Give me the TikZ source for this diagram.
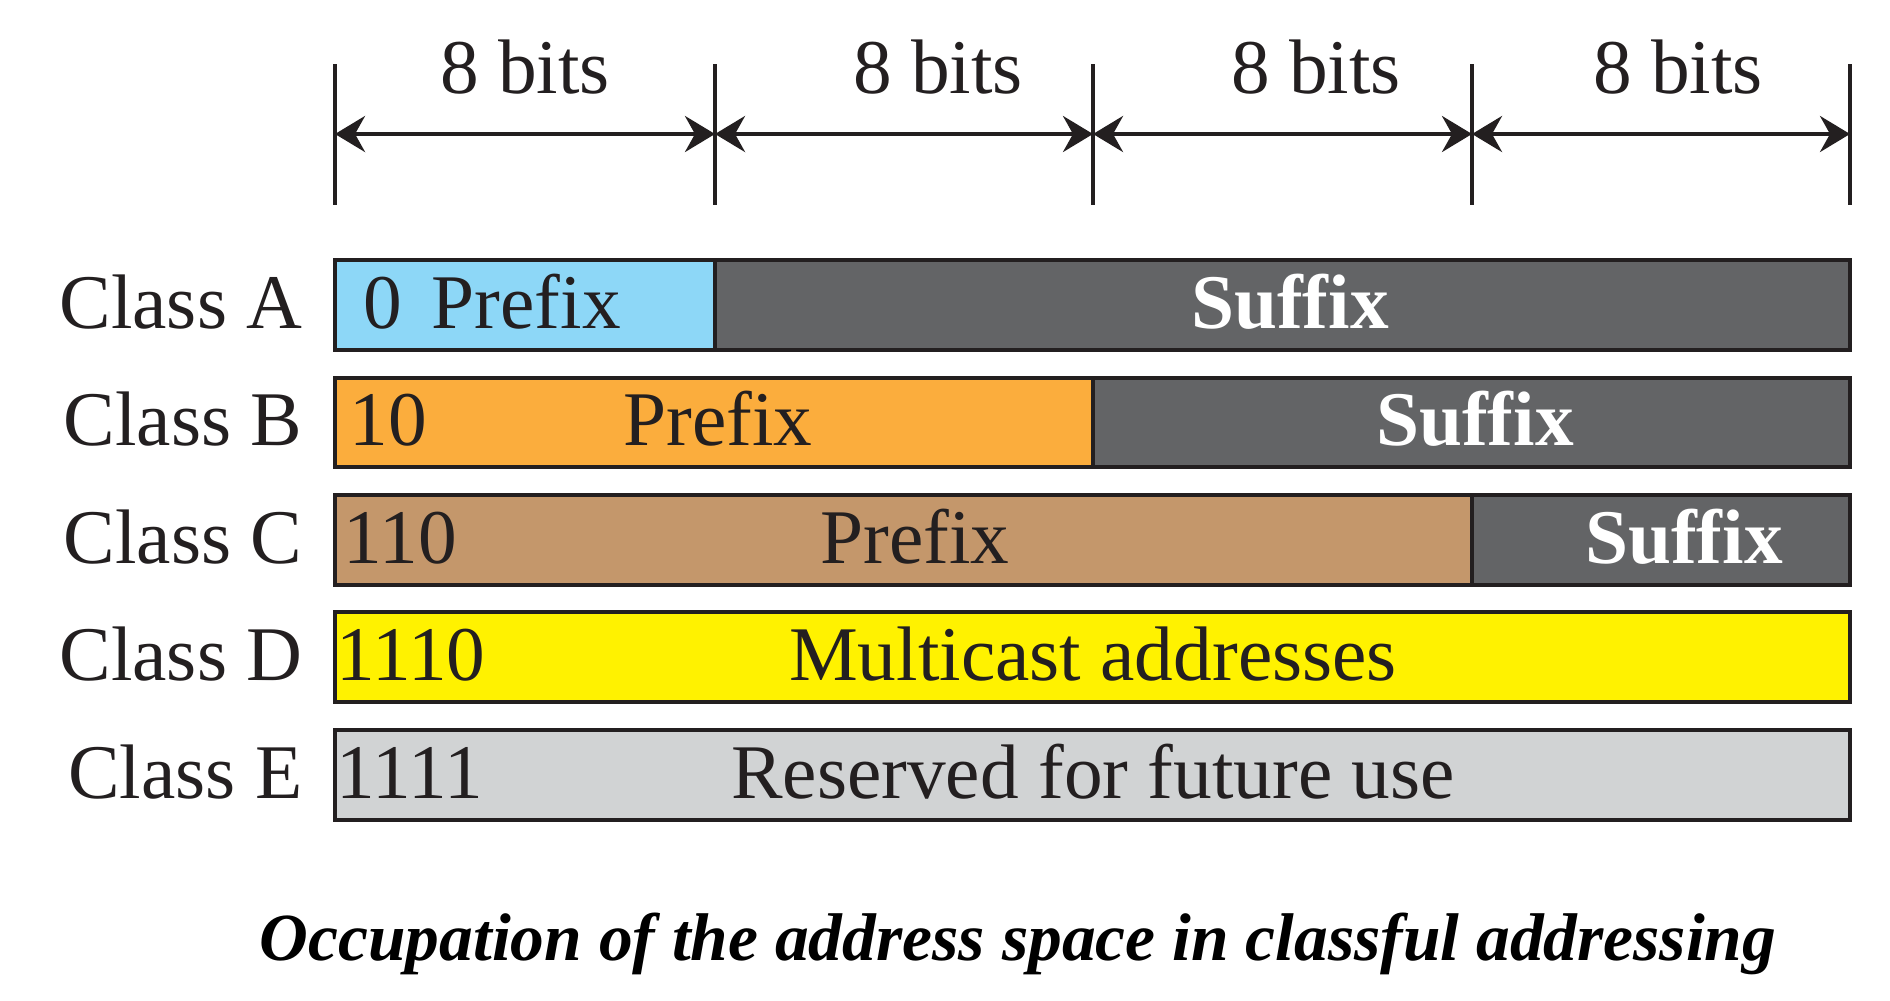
\documentclass[tikz,border=0pt]{standalone}
\usepackage{fontspec}
\setmainfont{Liberation Serif}
\usetikzlibrary{arrows.meta}
\definecolor{ink}{HTML}{231F20}
\definecolor{skyA}{HTML}{8DD7F7}
\definecolor{orangeB}{HTML}{FBAD3D}
\definecolor{tanC}{HTML}{C4976B}
\definecolor{yellowD}{HTML}{FFF200}
\definecolor{greyE}{HTML}{D1D3D4}
\definecolor{suffixgrey}{HTML}{636466}
\tikzset{bar/.style={draw=ink,line width=0.4mm},lbl/.style={font=\fontsize{22}{26}\selectfont,inner sep=0pt,anchor=base,text=ink},cls/.style={lbl,anchor=base east},bitsw/.style={lbl,anchor=base west},sfx/.style={lbl,font=\fontsize{22}{26}\selectfont\bfseries,text=white},tickline/.style={line width=0.4mm,draw=ink},dim/.style={{Stealth[length=3mm,width=3.6mm,inset=1mm]}-{Stealth[length=3mm,width=3.6mm,inset=1mm]},line width=0.4mm,draw=ink}}

\begin{document}
\begin{tikzpicture}[x=0.1mm,y=-0.1mm]
\useasboundingbox (0,0) rectangle (1890,1000);
% byte ticks and dimension arrows
\foreach \x [count=\i] in {335,715,1093,1472,1850}{
  \coordinate (t\i) at (\x,134);
  \draw[tickline] (\x,64) -- (\x,205);}
\foreach \i/\j in {1/2,2/3,3/4,4/5} \draw[dim] (t\i) -- (t\j);
\foreach \x [count=\i] in {525,938,1316,1678} \node[lbl] (b\i) at (\x,93) {8 bits};
% class A
\draw[bar,fill=skyA] (335,260) rectangle (715,350);
\draw[bar,fill=suffixgrey] (715,260) rectangle (1850,350);
\node[cls] (ca) at (303,328) {Class A};
\node[bitsw] (pa0) at (363,328) {0};
\node[bitsw] (pa) at (431,328) {Prefix};
\node[sfx] (sa) at (1290,328) {Suffix};
% class B
\draw[bar,fill=orangeB] (335,378) rectangle (1093,467);
\draw[bar,fill=suffixgrey] (1093,378) rectangle (1850,467);
\node[cls] (cb) at (303,445) {Class B};
\node[bitsw] (pb0) at (349,445) {10};
\node[lbl] (pb) at (718,445) {Prefix};
\node[sfx] (sb) at (1475,445) {Suffix};
% class C
\draw[bar,fill=tanC] (335,495) rectangle (1472,585);
\draw[bar,fill=suffixgrey] (1472,495) rectangle (1850,585);
\node[cls] (cc) at (303,563) {Class C};
\node[bitsw] (pc0) at (343,563) {110};
\node[lbl] (pc) at (915,563) {Prefix};
\node[sfx] (sc) at (1684,563) {Suffix};
% class D
\draw[bar,fill=yellowD] (335,612) rectangle (1850,702);
\node[cls] (cd) at (303,680) {Class D};
\node[bitsw] (pd0) at (336,680) {1110};
\node[lbl] (pd) at (1093,680) {Multicast addresses};
% class E
\draw[bar,fill=greyE] (335,730) rectangle (1850,820);
\node[cls] (ce) at (303,798) {Class E};
\node[bitsw] (pe0) at (336,798) {1111};
\node[lbl] (pe) at (1093,798) {Reserved for future use};
\node[lbl,font=\fontsize{19.2}{23}\selectfont\bfseries\itshape,text=black] (cap) at (1018,960) {Occupation of the address space in classful addressing};
\end{tikzpicture}
\end{document}
